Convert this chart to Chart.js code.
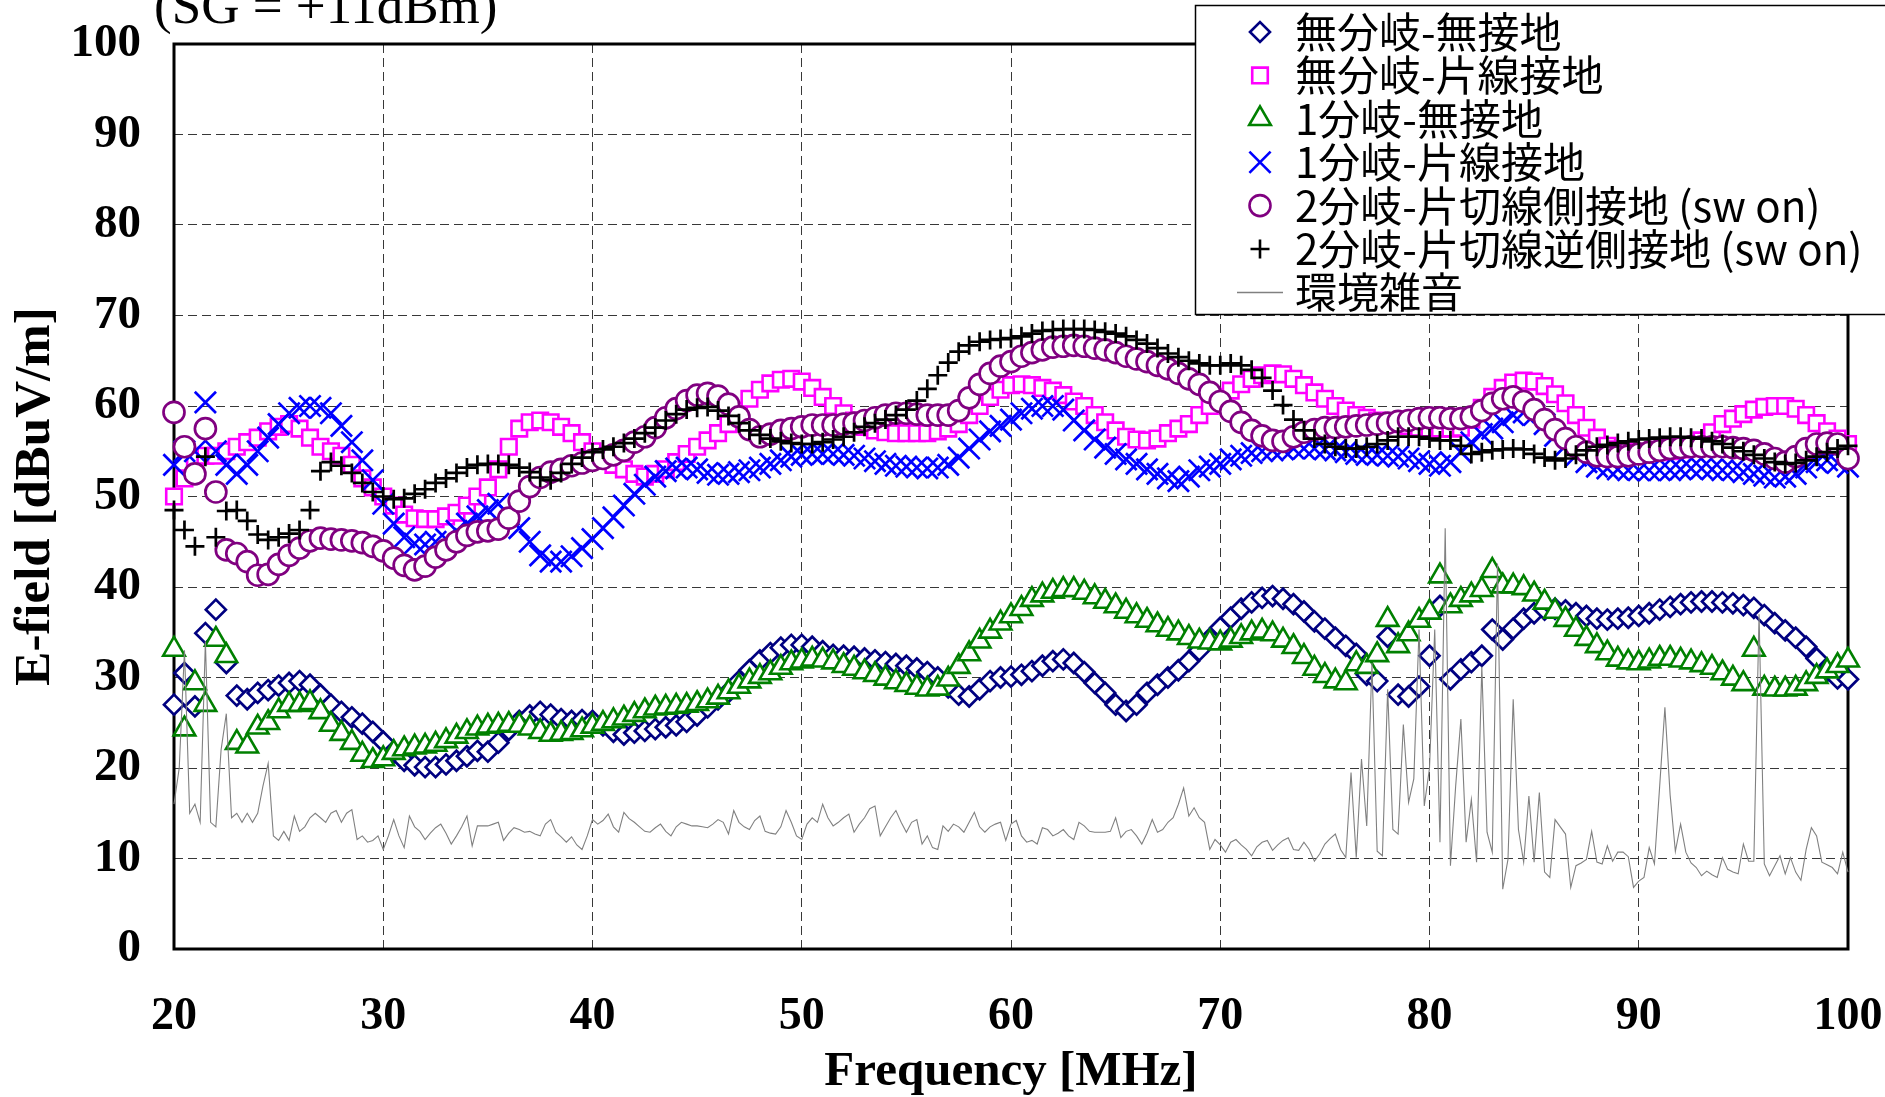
<!DOCTYPE html>
<html>
<head>
<meta charset="utf-8">
<script src="https://cdn.jsdelivr.net/npm/chart.js@4.4.1/dist/chart.umd.min.js"></script>
<style>
  html, body { margin: 0; padding: 0; background: #ffffff; }
</style>
</head>
<body>
<canvas id="myChart" width="1885" height="1097"></canvas>
<script>
// frequencies: markers every 0.5 MHz, noise every 0.25 MHz, from 20 MHz
const startFreq = 20;
const markerStep = 0.5;
const noiseStep = 0.25;

const xTicks = [20, 30, 40, 50, 60, 70, 80, 90, 100];
const yTicks = [0, 10, 20, 30, 40, 50, 60, 70, 80, 90, 100];

const seriesLabels = [
    "無分岐-無接地",
    "無分岐-片線接地",
    "1分岐-無接地",
    "1分岐-片線接地",
    "2分岐-片切線側接地 (sw on)",
    "2分岐-片切線逆側接地 (sw on)",
    "環境雑音",
];

// 無分岐-無接地
const noBranchNoGround = [
    27, 30.5, 26.8, 34.9, 37.5, 31.6, 28, 27.6, 28.3, 28.6,
    29.1, 29.4, 29.6, 29.2, 28.1, 27, 26.2, 25.6, 24.9, 24,
    22.9, 21.7, 20.8, 20.3, 20.1, 20.1, 20.4, 20.8, 21.3, 21.9,
    21.8, 22.8, 24.2, 25.2, 25.8, 26.2, 25.9, 25.4, 25.2, 25.3,
    25.2, 24.7, 24, 23.7, 23.9, 24.1, 24.3, 24.5, 24.7, 25.1,
    25.8, 26.7, 27.6, 28.4, 29.6, 30.8, 31.9, 32.7, 33.3, 33.6,
    33.6, 33.4, 32.9, 32.5, 32.4, 32.3, 32.1, 31.9, 31.7, 31.5,
    31.3, 31, 30.6, 30, 28.9, 28.1, 27.9, 28.7, 29.6, 30,
    30.1, 30.3, 30.7, 31.3, 31.8, 32, 31.6, 30.6, 29.4, 28.3,
    27, 26.3, 27, 28.3, 29.2, 30, 30.8, 31.8, 33, 34.3,
    35.5, 36.6, 37.6, 38.3, 38.8, 39, 38.7, 38.1, 37.3, 36.2,
    35.4, 34.4, 33.5, 32.6, 30.3, 29.6, 34.5, 28.1, 27.9, 29,
    32.4, 37.9, 29.8, 30.9, 31.7, 32.4, 35.3, 34.2, 35.4, 36.5,
    37.1, 37.5, 37.6, 37.4, 37.1, 36.8, 36.5, 36.4, 36.5, 36.6,
    36.8, 37.1, 37.5, 37.8, 38.1, 38.3, 38.4, 38.4, 38.3, 38.2,
    38, 37.7, 36.9, 36, 35.2, 34.4, 33.4, 32.1, 30.7, 29.9,
    29.8
];

// 無分岐-片線接地
const noBranchOneLine = [
    50, 52, 54, 54.5, 54.5, 55, 55.5, 56, 56.5, 57.2,
    57.7, 58, 57.5, 56.5, 55.5, 55, 54.5, 53.5, 52, 51,
    50, 49, 48, 47.6, 47.5, 47.5, 47.8, 48.2, 49, 50,
    51, 53, 55.5, 57.5, 58.2, 58.4, 58.2, 57.7, 57, 56,
    55, 54.2, 53.5, 53, 52.5, 52.2, 52.5, 53, 53.8, 54.7,
    55.5, 56.2, 57, 58, 59.5, 60.8, 61.8, 62.5, 62.9, 63,
    62.7, 62, 61, 60, 59.2, 58.4, 57.7, 57.3, 57.1, 57,
    57, 57, 57, 57.2, 57.5, 58, 59, 60, 61, 61.8,
    62.3, 62.4, 62.3, 62, 61.7, 61.2, 60.5, 60, 59, 58.2,
    57.3, 56.6, 56.3, 56.2, 56.4, 57, 57.5, 58, 59, 60,
    61, 61.7, 62.4, 63, 63.4, 63.6, 63.5, 63, 62.3, 61.5,
    60.8, 60, 59.5, 59, 58.7, 58.4, 58.2, 58, 57.8, 57.6,
    57.5, 57.5, 57.5, 57.6, 58.5, 59.8, 61, 62, 62.6, 62.8,
    62.7, 62.2, 61.3, 60.3, 59, 57.6, 56.5, 55.6, 55.2, 55,
    54.9, 54.9, 54.9, 55, 55.2, 55.6, 56.2, 57.1, 58, 58.6,
    59.1, 59.6, 59.9, 60, 60, 59.7, 59, 58.1, 57.2, 56.4,
    55.8
];

// 1分岐-無接地
const oneBranchNoGround = [
    33.1, 24.3, 29.4, 27, 34.2, 32.4, 22.8, 22.4, 24.5, 25,
    26.3, 27, 27, 27.2, 26.2, 24.8, 23.8, 22.8, 21.5, 20.8,
    21, 21.7, 22.1, 22.3, 22.4, 22.6, 23, 23.5, 24, 24.4,
    24.6, 24.7, 24.8, 24.7, 24.4, 24, 23.7, 23.8, 23.9, 24.2,
    24.6, 24.9, 25.2, 25.5, 25.9, 26.3, 26.6, 26.7, 26.8, 26.9,
    27.1, 27.4, 27.8, 28.4, 29, 29.6, 30.1, 30.5, 31.1, 31.6,
    31.8, 32, 31.9, 31.7, 31.3, 31, 30.6, 30.3, 29.9, 29.5,
    29.2, 28.9, 28.7, 28.8, 29.8, 31.2, 32.6, 34, 35.1, 36,
    36.8, 37.6, 38.6, 39.1, 39.5, 39.7, 39.7, 39.4, 38.9, 38.4,
    37.9, 37.3, 36.8, 36.3, 35.8, 35.3, 34.9, 34.4, 34, 33.9,
    33.8, 34.1, 34.5, 34.9, 35.1, 34.8, 34.1, 33.4, 32.3, 31,
    30.2, 29.6, 29.4, 31.5, 31.2, 32.5, 36.4, 33.5, 34.8, 36.3,
    37.2, 41.2, 37.9, 38.6, 39.1, 39.7, 41.8, 40.1, 40.1, 39.9,
    39.2, 38.3, 37.3, 36.4, 35.3, 34.3, 33.5, 32.7, 32, 31.7,
    31.6, 31.8, 32.1, 32.1, 31.9, 31.7, 31.4, 31.1, 30.5, 29.9,
    29.3, 33.1, 28.8, 28.7, 28.7, 28.8, 29.3, 30.1, 30.7, 31.3,
    31.9
];

// 1分岐-片線接地
const oneBranchOneLine = [
    53.5, 55, 55, 60.4, 55, 53.5, 52.5, 53.5, 55, 56.5,
    58, 59.2, 59.8, 60, 59.8, 59.2, 57.8, 56, 54, 51.8,
    49.2, 47, 45.5, 44.8, 44.7, 45, 45.3, 46.2, 47, 47.8,
    48.5, 49.2, 48, 46.5, 45, 43.5, 42.8, 42.8, 43.4, 44.3,
    45.3, 46.5, 47.7, 49, 50.3, 51.3, 52.2, 52.8, 53.1, 53.2,
    53, 52.6, 52.4, 52.5, 52.7, 52.9, 53.2, 53.6, 54, 54.4,
    54.6, 54.7, 54.7, 54.7, 54.6, 54.5, 54.2, 53.9, 53.6, 53.4,
    53.3, 53.2, 53.1, 53.2, 53.5, 54.3, 55.3, 56.3, 57.2, 57.8,
    58.5, 59.2, 59.7, 60, 60, 59.6, 58.4, 57.3, 56.3, 55.4,
    54.7, 54.1, 53.6, 53, 52.5, 52, 51.7, 52.2, 52.9, 53.3,
    53.6, 54.1, 54.5, 54.8, 55, 55.1, 55.2, 55.3, 55.3, 55.3,
    55.2, 55.1, 54.9, 54.7, 54.6, 54.6, 54.5, 54.4, 54.2, 53.9,
    53.6, 53.4, 53.8, 54.9, 56, 56.9, 57.5, 58.2, 59, 59.3,
    59, 58, 56.7, 55.6, 54.5, 53.8, 53.3, 53.1, 53, 52.9,
    52.9, 52.9, 52.9, 52.9, 53, 53.1, 53.1, 53, 52.9, 52.9,
    52.7, 52.5, 52.3, 52.1, 52.2, 52.5, 53.2, 53.8, 54, 53.7,
    53.3
];

// 2分岐-片切線側接地 (sw on)
const twoBranchSide = [
    59.3, 55.5, 52.5, 57.5, 50.5, 44.1, 43.7, 42.8, 41.3, 41.4,
    42.5, 43.5, 44.3, 45.1, 45.4, 45.3, 45.2, 45.1, 44.9, 44.5,
    44, 43.2, 42.4, 41.9, 42.3, 43.3, 44.1, 45, 45.7, 46.1,
    46.2, 46.4, 47.6, 49.5, 51.1, 52.1, 52.7, 53, 53.4, 53.7,
    54, 54.2, 54.6, 55.1, 56, 56.6, 57.6, 58.7, 59.7, 60.6,
    61.2, 61.4, 61.1, 60.2, 58.8, 57.4, 56.6, 56.9, 57.3, 57.5,
    57.7, 57.9, 57.9, 57.9, 58, 58.1, 58.4, 58.7, 59, 59.2,
    59.2, 59.1, 59, 59, 59, 59.5, 60.9, 62.4, 63.6, 64.4,
    64.9, 65.5, 65.9, 66.2, 66.5, 66.6, 66.7, 66.6, 66.4, 66.2,
    65.9, 65.5, 65.2, 64.9, 64.5, 64.1, 63.6, 63, 62.4, 61.5,
    60.5, 59.4, 58.2, 57.3, 56.7, 56.2, 56.1, 56.6, 57.1, 57.4,
    57.6, 57.6, 57.7, 57.8, 57.9, 58, 58.1, 58.3, 58.4, 58.6,
    58.7, 58.7, 58.6, 58.6, 58.8, 59.5, 60.3, 60.8, 61, 60.5,
    59.6, 58.5, 57.4, 56.4, 55.5, 54.9, 54.5, 54.4, 54.4, 54.5,
    54.7, 54.9, 55.1, 55.3, 55.4, 55.5, 55.5, 55.5, 55.5, 55.4,
    55.3, 55.1, 54.7, 54.2, 53.8, 54.4, 55.3, 55.8, 55.9, 55.8,
    54.2
];

// 2分岐-片切線逆側接地 (sw on)
const twoBranchReverse = [
    48.5, 46.3, 44.5, 54.4, 45.5, 48.4, 48.5, 47.3, 45.8, 45.2,
    45.5, 45.9, 46.3, 48.5, 52.8, 53.8, 53.4, 52.6, 51.5, 50.5,
    50, 49.7, 49.8, 50.3, 50.8, 51.5, 52, 52.6, 53.2, 53.5,
    53.6, 53.6, 53.5, 53.2, 52.7, 52.1, 51.8, 52.6, 53.6, 54.3,
    54.9, 55.2, 55.5, 55.9, 56.4, 57, 57.6, 58.4, 59.1, 59.6,
    59.8, 59.9, 59.5, 58.9, 58.1, 57.3, 56.8, 56.4, 56.1, 55.9,
    55.8, 55.8, 56, 56.3, 56.6, 57.1, 57.7, 58.1, 58.5, 59,
    59.6, 60.6, 61.9, 63.4, 64.8, 66, 66.7, 67.1, 67.3, 67.4,
    67.5, 67.7, 68, 68.3, 68.4, 68.5, 68.5, 68.5, 68.4, 68.2,
    68, 67.7, 67.3, 66.9, 66.4, 65.8, 65.4, 65, 64.7, 64.5,
    64.5, 64.7, 64.5, 64, 63.1, 61.7, 60.1, 58.5, 57.3, 56.4,
    55.8, 55.5, 55.3, 55.3, 55.5, 55.8, 56.2, 56.6, 56.6, 56.6,
    56.4, 56.2, 56.2, 55.6, 54.7, 54.9, 55.1, 55.2, 55.3, 55.2,
    54.7, 54.3, 54, 54.2, 54.6, 55.1, 55.5, 55.7, 55.9, 56.1,
    56.3, 56.4, 56.5, 56.6, 56.6, 56.5, 56.4, 56.1, 55.8, 55.4,
    55, 54.6, 54.2, 53.8, 53.6, 53.7, 54, 54.4, 54.9, 55.3,
    55.6
];

// 環境雑音 (0.25 MHz step)
const ambientNoise = [
    16, 20, 33, 15, 16, 14, 34, 14,
    13.5, 22, 26, 14.5, 15, 14, 15, 14,
    15, 18, 20.5, 12.5, 12, 13, 12, 14.7,
    13, 13.5, 14.5, 15, 14.5, 14, 15, 15.3,
    14, 15, 15.4, 12.1, 12.5, 11.8, 12, 12.5,
    11, 12.5, 14.3, 12.5, 11.2, 14.7, 13.5, 13,
    12.1, 12.8, 13.4, 13.8, 12.8, 11.6, 12.5, 13.5,
    14.7, 11.4, 13.6, 13.6, 13.6, 13.8, 14, 12,
    12.8, 13.4, 13.2, 12.9, 13, 12.7, 12.5, 13.8,
    14.3, 12.9, 12.4, 11.8, 12.4, 11.5, 11, 12.5,
    14.3, 13.8, 14.2, 14.9, 13.5, 12.9, 15.1, 14.4,
    14, 13.5, 13, 12.9, 13.4, 13.8, 13, 12.5,
    13.5, 14, 13.8, 13.6, 13.6, 13.5, 13.4, 13.8,
    14.3, 14, 12.7, 15.3, 14, 13.5, 13.2, 14.2,
    14.7, 13, 12.8, 12.7, 13.5, 15.3, 14, 12.5,
    12.1, 13.8, 14.5, 14, 16, 14.5, 13.6, 14,
    14.5, 14.9, 12.9, 13.8, 14.5, 15.5, 15.8, 12.5,
    13.5, 14.5, 15.3, 14, 12.9, 14, 14.3, 11.6,
    12.5, 11.2, 11, 13.6, 13, 13.8, 13.5, 12.9,
    14, 15.1, 13.5, 12.9, 13.5, 13.8, 14, 12,
    13.8, 14.2, 12.5, 11.8, 12, 11.6, 13.4, 13.2,
    12.5, 12.8, 13.2, 12.5, 12.1, 14, 13.6, 13,
    12.9, 12.9, 12.9, 13, 14.5, 12.3, 13, 13.2,
    12.5, 11.6, 12.8, 14.3, 12.9, 13.2, 14, 14.5,
    16, 17.8, 14.7, 15.6, 14.5, 14, 11, 12.1,
    11.5, 10.7, 11.8, 12.1, 11.5, 11, 10.3, 11.3,
    11.8, 12, 10.9, 11.5, 12, 12.3, 11, 10.9,
    11.8, 11, 9.7, 10.5, 11.6, 12.2, 12.7, 11,
    10.1, 19.5, 10.1, 21, 13.6, 31.6, 10.8, 10.3,
    28.7, 13.2, 12.7, 24.8, 16.2, 18.8, 35.3, 15.8,
    20, 35.3, 11.8, 46.5, 9.2, 18, 25.4, 11.8,
    16.5, 9.6, 31.2, 12.9, 10.7, 42.6, 6.6, 9.9,
    27.6, 13.2, 9.6, 16.9, 9.6, 17.3, 8.5, 7.9,
    14.3, 13.5, 12.7, 6.8, 9.2, 9.5, 9.9, 13,
    9.6, 9.4, 11.4, 9.7, 10.7, 10.7, 10.2, 6.8,
    7.5, 7.9, 11.2, 9.4, 18, 26.7, 17, 10.8,
    13.8, 10.7, 9.5, 9, 8.1, 8.6, 8.2, 7.9,
    10.1, 8.8, 8.5, 8.3, 11.6, 9.7, 9.7, 37,
    9.4, 8.1, 9.2, 10.3, 8.3, 10.1, 8.5, 7.6,
    11, 13.4, 12.5, 9.6, 9.3, 9, 8.3, 10.7,
    8.5
];

Chart.defaults.font.family = "'Liberation Serif', 'Times New Roman', serif";
Chart.defaults.color = "#000000";

function toPoints(values, step) {
    return values.map((v, i) => ({ x: startFreq + i * step, y: v }));
}

function markerSet(idx, values, style, radius, color, width, order) {
    return {
        label: seriesLabels[idx],
        data: toPoints(values, markerStep),
        showLine: false,
        clip: false,
        order: order,
        pointStyle: style,
        pointRadius: radius,
        pointHoverRadius: radius,
        pointBorderColor: color,
        pointBackgroundColor: "#ffffff",
        pointBorderWidth: width,
        borderColor: color,
        backgroundColor: "#ffffff",
    };
}

const datasets = [
    markerSet(0, noBranchNoGround, "rectRot", 10, "#000080", 2.7, 7),
    markerSet(1, noBranchOneLine, "rect", 11, "#ff00ff", 2.6, 6),
    markerSet(2, oneBranchNoGround, "triangle", 12.5, "#008000", 2.6, 5),
    markerSet(3, oneBranchOneLine, "crossRot", 15, "#0000ff", 2.7, 4),
    markerSet(4, twoBranchSide, "circle", 10.5, "#800080", 2.7, 3),
    markerSet(5, twoBranchReverse, "cross", 9.5, "#000000", 2.7, 2),
    {
        label: seriesLabels[6],
        data: toPoints(ambientNoise, noiseStep),
        showLine: true,
        clip: false,
        order: 1,
        pointRadius: 0,
        borderColor: "#808080",
        borderWidth: 1.1,
        tension: 0,
    },
];

// frame, title and legend
const decor = {
    id: "decor",
    beforeDatasetsDraw(chart) {
        const { ctx, chartArea: a } = chart;
        ctx.save();
        ctx.strokeStyle = "#000000";
        ctx.lineWidth = 3;
        ctx.strokeRect(a.left, a.top, a.right - a.left, a.bottom - a.top);
        ctx.restore();
    },
    afterDraw(chart) {
        const ctx = chart.ctx;
        ctx.save();
        // title, cut at the top edge like the original
        ctx.fillStyle = "#000000";
        ctx.font = "53px 'Liberation Serif'";
        ctx.textBaseline = "alphabetic";
        ctx.textAlign = "left";
        ctx.fillText("(SG = +11dBm)", 154, 23);

        // legend box
        ctx.fillStyle = "#ffffff";
        ctx.fillRect(1195, 5, 700, 309);
        ctx.strokeStyle = "#000000";
        ctx.lineWidth = 1.5;
        ctx.strokeRect(1195.5, 5.5, 700, 309);

        ctx.font = "42px 'Noto Sans CJK JP'";
        ctx.textBaseline = "middle";
        datasets.forEach((ds, i) => {
            const y = 32 + i * 43.4;
            if (ds.pointRadius > 0) {
                ctx.fillStyle = "#ffffff";
                ctx.strokeStyle = ds.pointBorderColor;
                ctx.lineWidth = 2.6;
                Chart.helpers.drawPoint(ctx, {
                    pointStyle: ds.pointStyle,
                    radius: ds.pointRadius,
                    rotation: 0,
                    borderWidth: 2.6,
                }, 1260, y);
            } else {
                ctx.strokeStyle = ds.borderColor;
                ctx.lineWidth = 1.5;
                ctx.beginPath();
                ctx.moveTo(1237, y);
                ctx.lineTo(1283, y);
                ctx.stroke();
            }
            ctx.fillStyle = "#000000";
            ctx.fillText(ds.label, 1295, y);
        });
        ctx.restore();
    },
};

// keep the plot area where the original has it
function noScalePadding(s) {
    s.paddingLeft = 0;
    s.paddingRight = 0;
    s.paddingTop = 0;
    s.paddingBottom = 0;
}

const ctx = document.getElementById("myChart").getContext("2d");

const myChart = new Chart(ctx, {
    type: "scatter",
    data: { datasets },
    options: {
        responsive: false,
        animation: false,
        events: [],
        layout: { padding: { left: 0, right: 37, top: 44, bottom: 0 } },
        plugins: {
            legend: { display: false },
            tooltip: { enabled: false },
        },
        scales: {
            x: {
                type: "linear",
                min: xTicks[0],
                max: xTicks[xTicks.length - 1],
                afterBuildTicks: (s) => { s.ticks = xTicks.map((v) => ({ value: v })); },
                afterFit: (s) => { s.height = 148; noScalePadding(s); },
                ticks: {
                    padding: 41,
                    maxRotation: 0,
                    autoSkip: false,
                    font: { size: 46, weight: "bold" },
                    color: "#000000",
                },
                grid: { color: "#383838", lineWidth: 1, drawTicks: false },
                border: { display: false, dash: [9, 5] },
                title: {
                    display: true,
                    text: "Frequency [MHz]",
                    font: { size: 49, weight: "bold", lineHeight: 1 },
                    color: "#000000",
                    padding: 0,
                },
            },
            y: {
                min: yTicks[0],
                max: yTicks[yTicks.length - 1],
                afterBuildTicks: (s) => { s.ticks = yTicks.map((v) => ({ value: v })); },
                afterFit: (s) => { s.width = 174; noScalePadding(s); },
                ticks: {
                    padding: 33,
                    autoSkip: false,
                    font: { size: 47, weight: "bold" },
                    color: "#000000",
                },
                grid: { color: "#383838", lineWidth: 1, drawTicks: false },
                border: { display: false, dash: [9, 5] },
                title: {
                    display: true,
                    text: "E-field [dBuV/m]",
                    font: { size: 51, weight: "bold", lineHeight: 1 },
                    color: "#000000",
                    padding: { top: 10, bottom: 0 },
                },
            },
        },
    },
    plugins: [decor],
});
</script>
</body>
</html>
